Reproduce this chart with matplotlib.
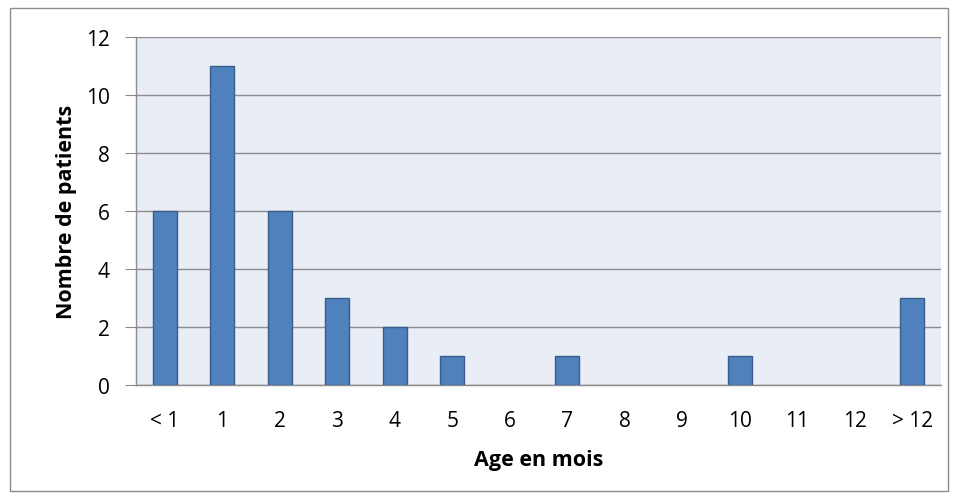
import matplotlib
matplotlib.use("Agg")
import matplotlib.pyplot as plt
from matplotlib.patches import Rectangle

categories = ["< 1", "1", "2", "3", "4", "5", "6", "7", "8", "9", "10", "11", "12", "> 12"]
patients = [6, 11, 6, 3, 2, 1, 0, 1, 0, 0, 1, 0, 0, 3]
yticks = [0, 2, 4, 6, 8, 10, 12]

plt.rcParams['font.family'] = ['Open Sans', 'DejaVu Sans']

W, H = 958, 502
fig = plt.figure(figsize=(W/100, H/100), dpi=100)
fig.patch.set_facecolor("white")

# outer chart border
fig.patches.append(Rectangle((10/W, 1 - 492/H), 938/W, 483/H, transform=fig.transFigure,
                             fill=False, edgecolor="#8C8C8C", linewidth=1.0))

L, R, T, B = 136, 941, 38, 386
ax = fig.add_axes([L/W, 1 - B/H, (R-L)/W, (B-T)/H])
ax.set_facecolor("#E9EDF5")

x = list(range(len(categories)))
edges = ["#385D8A" if v > 0 else "none" for v in patients]
ax.bar(x, patients, width=0.42, color="#4F81BD", edgecolor=edges, linewidth=1.0, zorder=3)

ax.set_xlim(-0.5, len(categories) - 0.5)
ax.set_ylim(0, 12)
ax.set_yticks(yticks)
ax.set_xticks(x)
ax.set_xticklabels(categories)
ax.yaxis.grid(True, color="#8C8C8C", linewidth=1.0, zorder=1)
ax.set_axisbelow(True)

for s in ["top", "right"]:
    ax.spines[s].set_visible(False)
ax.spines["left"].set_color("#8C8C8C")
ax.spines["bottom"].set_color("#8C8C8C")
ax.spines["left"].set_linewidth(1.0)
ax.spines["bottom"].set_linewidth(1.0)

ax.tick_params(axis="y", length=8, color="#8C8C8C", labelsize=15, pad=11)
ax.tick_params(axis="x", length=0, labelsize=15, pad=18)

ax.set_ylabel("Nombre de patients", fontsize=15.5, fontweight="bold", labelpad=6)
ax.set_xlabel("Age en mois", fontsize=15.5, fontweight="bold", labelpad=13)

fig.savefig("out.png", dpi=100)
